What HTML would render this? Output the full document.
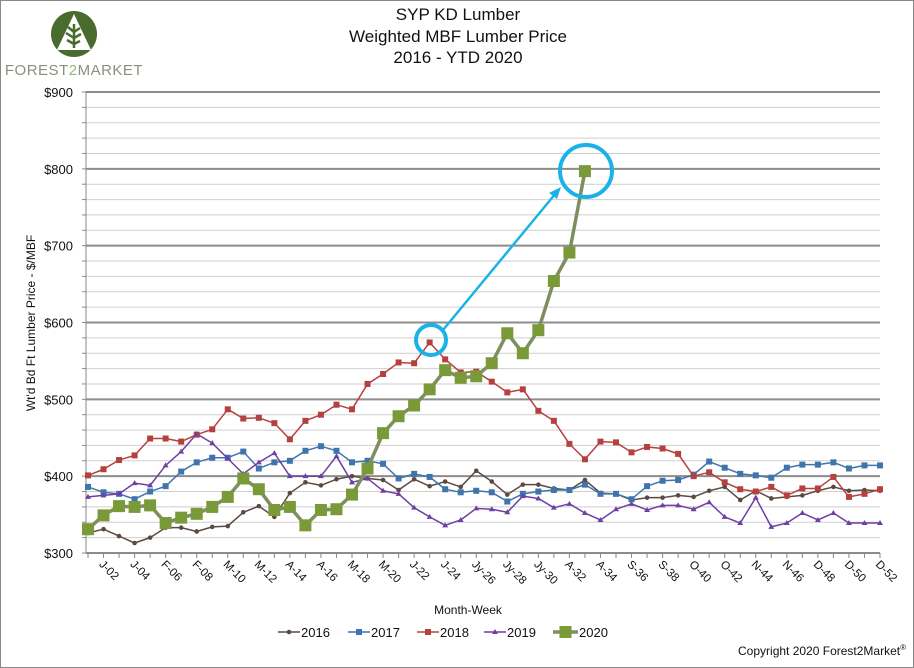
<!DOCTYPE html>
<html><head><meta charset="utf-8"><style>
html,body{margin:0;padding:0;background:#fff;}
svg{display:block;font-family:"Liberation Sans",Arial,sans-serif;}
</style></head><body>
<svg id="chart" width="914" height="668" viewBox="0 0 914 668">
<rect x="0.5" y="0.5" width="913" height="667" fill="#fff" stroke="#888"/>
<g>
<circle cx="74" cy="34" r="23" fill="#4a6b2e"/>
<polygon points="74,14 57,50 91,50" fill="#fff"/>
<path d="M74,24 L74,48 M74,32 L68,27 M74,32 L80,28 M74,38 L66,33 M74,38 L81,34 M74,44 L67,40 M74,44 L80,41" stroke="#4a6b2e" stroke-width="2.5" fill="none"/>
<text x="74" y="75" text-anchor="middle" font-size="15" fill="#8a8f80" letter-spacing="0.5">FOREST<tspan fill="#9ab57a">2</tspan>MARKET</text>
</g>
<g font-size="17" fill="#111" text-anchor="middle">
<text x="458" y="20">SYP KD Lumber</text>
<text x="458" y="42">Weighted MBF Lumber Price</text>
<text x="458" y="63">2016 - YTD 2020</text>
</g>
<g id="grid"></g>
<g id="yticks" font-size="13" fill="#111" text-anchor="end"></g>
<text transform="translate(35,323) rotate(-90)" text-anchor="middle" font-size="12" fill="#111">Wt'd Bd Ft Lumber Price - $/MBF</text>
<g id="xticks" font-size="11.5" fill="#111"></g>
<text x="468" y="614" text-anchor="middle" font-size="12" fill="#111">Month-Week</text>
<g id="series"></g>
<g stroke="#1ab2e8" fill="none">
<circle cx="431" cy="340" r="15" stroke-width="4"/>
<circle cx="586" cy="171" r="26" stroke-width="4"/>
<line x1="443" y1="330" x2="556" y2="193" stroke-width="2.5"/>
<polygon points="561,187 549,193 557,199" fill="#1ab2e8" stroke="none"/>
</g>
<g id="legend" font-size="13" fill="#111"></g>
<text x="906" y="655" text-anchor="end" font-size="12" fill="#111">Copyright 2020 Forest2Market<tspan font-size="8" dy="-5">®</tspan></text>
</svg>
<script>
const yTicks=[300,400,500,600,700,800,900];
const weekLabels=["J-02","J-04","F-06","F-08","M-10","M-12","A-14","A-16","M-18","M-20","J-22","J-24","Jy-26","Jy-28","Jy-30","A-32","A-34","S-36","S-38","O-40","O-42","N-44","N-46","D-48","D-50","D-52"];
const seriesNames=["2016","2017","2018","2019","2020"];
const s2016=[326,331,322,313,320,333,333,328,334,335,353,361,347,378,392,388,396,400,397,395,382,396,387,393,386,407,393,376,389,389,384,382,395,378,377,369,372,372,375,373,381,386,369,381,371,373,375,381,386,381,382,381];
const s2017=[386,379,377,370,380,387,406,418,424,424,432,410,418,420,433,439,433,418,420,416,397,403,399,383,379,381,379,367,377,380,382,382,389,377,377,370,387,394,395,402,419,411,403,401,398,411,415,415,418,410,414,414];
const s2018=[401,409,421,427,449,449,445,454,461,487,475,476,469,448,472,480,493,487,520,533,548,547,574,552,535,536,523,509,513,485,472,442,422,445,444,431,438,436,429,400,405,392,383,380,386,375,384,384,399,373,377,383];
const s2019=[373,375,377,391,388,414,432,455,443,423,403,418,430,400,400,400,426,392,397,381,377,359,347,336,343,358,357,353,374,371,359,364,352,343,357,364,356,362,362,357,366,347,339,372,334,339,352,343,352,339,339,339];
const s2020=[331,349,361,360,362,339,346,351,360,373,397,383,356,360,336,356,357,376,410,456,478,492,513,538,528,530,547,586,560,590,654,691,797];
const NS="http://www.w3.org/2000/svg";
const L=86,R=880,T=92,B=553,yMin=300,yMax=900,nW=52;
const xs=w=>88+(w-1)*(R-88)/(nW-1);
const ys=v=>B-(v-yMin)/(yMax-yMin)*(B-T);
function mk(tag,attrs,parent){const e=document.createElementNS(NS,tag);for(const k in attrs)e.setAttribute(k,attrs[k]);parent.appendChild(e);return e;}
const grid=document.getElementById('grid');
for(let v=yMin;v<=yMax;v+=20){
 const major=(v%100===0);
 const gl=mk('line',{x1:L,x2:R,y1:ys(v),y2:ys(v),stroke:major?'#8c8c8c':'#cfcfcf','stroke-width':major?2:1},grid);
 
 
 const tk=mk('line',{x1:L-4,x2:L,y1:ys(v),y2:ys(v),stroke:'#888'},grid);
 
 
}
const ax=mk('line',{x1:L,x2:L,y1:T,y2:B,stroke:'#888'},grid);


for(let w=1;w<=nW;w++){
 const t=mk('line',{x1:xs(w),x2:xs(w),y1:B,y2:B+5,stroke:'#888'},grid);
 
 
}
const yt=document.getElementById('yticks');
yTicks.forEach(v=>{const t=mk('text',{x:73,y:ys(v)+5},yt);t.textContent='$'+v;
 
 });
const xt=document.getElementById('xticks');
weekLabels.forEach((lab,i)=>{const w=(i+1)*2;const x=xs(w)-5,y=B+12;
 const t=mk('text',{x:x,y:y,'text-anchor':'start',transform:`rotate(45 ${x} ${y})`},xt);t.textContent=lab;
 
 });
const data=[s2016,s2017,s2018,s2019,s2020];
const colors=['#5a4a42','#3f74ad','#b5413f','#6f3fa3','#7a9a3a'];
const lineCols=['#5a4a42','#3f74ad','#b5413f','#6f3fa3','#7d8f60'];
const widths=[1.5,1.5,1.5,1.5,3.5];
const sg=document.getElementById('series');
function marker(kind,x,y,c,g){
 let e;
 if(kind===0)e=mk('circle',{cx:x,cy:y,r:2.3,fill:c},g);
 else if(kind===3)e=mk('polygon',{points:`${x},${y-3} ${x-3},${y+2} ${x+3},${y+2}`,fill:c},g);
 else if(kind===4)e=mk('rect',{x:x-6,y:y-6,width:12,height:12,fill:c},g);
 else e=mk('rect',{x:x-3,y:y-3,width:6,height:6,fill:c},g);
 return e;
}
data.forEach((arr,k)=>{
 const g=mk('g',{},sg);
 
 
 const pts=arr.map((v,i)=>xs(i+1)+','+ys(v)).join(' ');
 const pl=mk('polyline',{points:pts,fill:'none',stroke:lineCols[k],'stroke-width':widths[k],'stroke-linejoin':'round'},g);
 
 
 arr.forEach((v,i)=>{const m=marker(k,xs(i+1),ys(v),colors[k],g);
  
  });
});
const lg=document.getElementById('legend');
const lx=[278,348,417,484,553];
seriesNames.forEach((n,k)=>{
 const g=mk('g',{},lg);
 
 
 const len=k===4?25:22;
 mk('line',{x1:lx[k],x2:lx[k]+len,y1:632,y2:632,stroke:lineCols[k],'stroke-width':k===4?3.5:1.5},g);
 marker(k,lx[k]+len/2,632,colors[k],g);
 const t=mk('text',{x:lx[k]+len+1,y:637},g);t.textContent=n;
});
</script>
</body></html>
